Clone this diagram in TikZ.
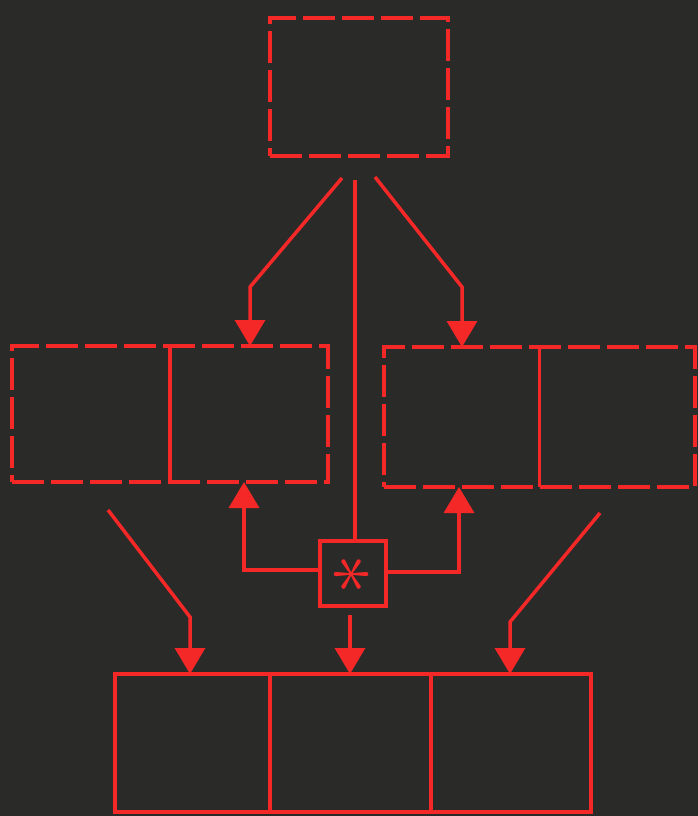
\documentclass[tikz,border=0pt]{standalone}
\usetikzlibrary{arrows.meta}
\definecolor{bg}{RGB}{42,42,40}
\definecolor{rd}{RGB}{245,40,40}
\begin{document}
\begin{tikzpicture}[x=1pt,y=-1pt,
  box/.style={draw=rd, line width=3.5pt, rectangle, inner sep=0pt, outer sep=0pt},
  dbox/.style={box, dash pattern=on 32pt off 7pt},
  divider/.style={draw=rd, line width=3.5pt},
  conn/.style={draw=rd, line width=3.5pt, line join=miter},
  arr/.style={conn, -{Triangle[width=30pt,length=26pt]}}]
\fill[bg] (0,0) rectangle (698,816);
\useasboundingbox (0,0) rectangle (698,816);
% boxes
\node[dbox, minimum width=178pt, minimum height=138pt] (top) at (359,87) {};
\node[dbox, minimum width=316pt, minimum height=136pt] (ml) at (170,414) {};
\node[dbox, minimum width=311pt, minimum height=140pt] (mr) at (539.5,417) {};
\node[box, minimum width=66pt, minimum height=65pt] (star) at (353,573.5) {};
\node[text=rd, rotate=90, scale=8] (ast) at (353,574) {$\ast$};
\node[box, minimum width=476pt, minimum height=138pt] (bot) at (353,743) {};
% dividers
\draw[divider] (ml.north) -- (ml.south);
\draw[divider] (mr.north) -- (mr.south);
\draw[divider] (bot.north west -| 270,0) -- (bot.south west -| 270,0);
\draw[divider] (bot.north west -| 431,0) -- (bot.south west -| 431,0);
% free ends
\coordinate (s1) at (342,178);
\coordinate (s2) at (375,177);
\coordinate (s3) at (355,180);
\coordinate (s4) at (108,510);
\coordinate (s5) at (600,513);
% arrows from top
\draw[arr] (s1) -- (250,287) -- (ml.north -| 250,0);
\draw[arr] (s2) -- (462,287) -- (mr.north -| 462,0);
\draw[conn] (s3) -- (star.north -| s3);
% star box outputs
\draw[arr] (star.west |- 0,570) -- (244,570) -- (ml.south -| 244,0);
\draw[arr] (star.east |- 0,572) -- (459,572) -- (mr.south -| 459,0);
\draw[arr] (350,615) -- (bot.north -| 350,0);
% lower diagonals
\draw[arr] (s4) -- (190,617) -- (bot.north -| 190,0);
\draw[arr] (s5) -- (510,622) -- (bot.north -| 510,0);
\end{tikzpicture}
\end{document}
